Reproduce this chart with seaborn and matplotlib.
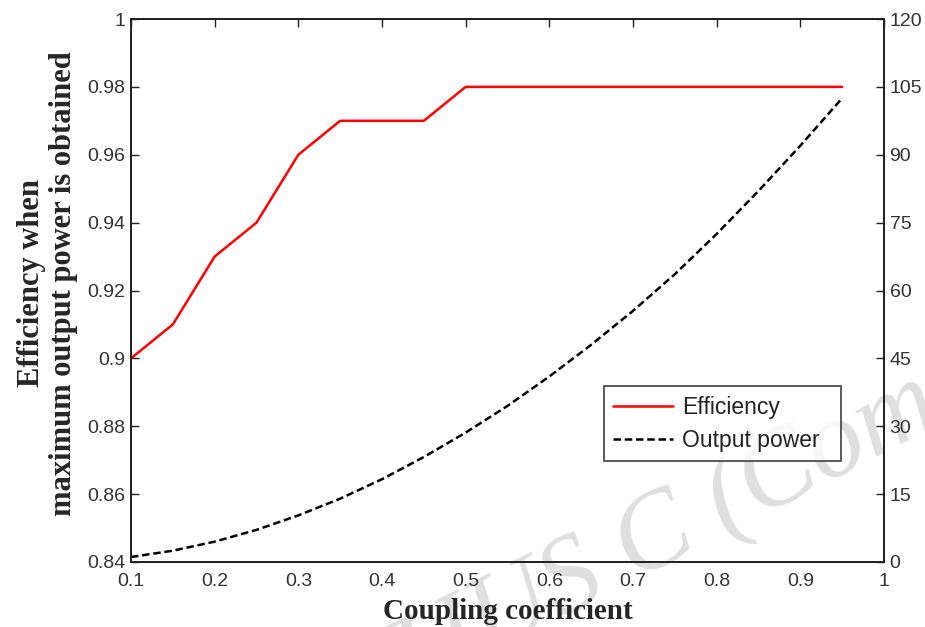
import matplotlib
matplotlib.use("Agg")
import matplotlib.pyplot as plt
import seaborn as sns
import pandas as pd

coupling = [0.10, 0.15, 0.20, 0.25, 0.30, 0.35, 0.40, 0.45, 0.50, 0.55,
            0.60, 0.65, 0.70, 0.75, 0.80, 0.85, 0.90, 0.95]
efficiency = [0.90, 0.91, 0.93, 0.94, 0.96, 0.97, 0.97, 0.97, 0.98, 0.98,
              0.98, 0.98, 0.98, 0.98, 0.98, 0.98, 0.98, 0.98]
output_power = [1.1, 2.5, 4.5, 7.1, 10.3, 14.0, 18.3, 23.2, 28.6, 34.5,
                41.0, 48.0, 55.5, 63.6, 72.5, 82.0, 92.0, 102.5]

x_ticks = [0.1, 0.2, 0.3, 0.4, 0.5, 0.6, 0.7, 0.8, 0.9, 1]
x_tick_labels = ["0.1", "0.2", "0.3", "0.4", "0.5", "0.6", "0.7", "0.8", "0.9", "1"]
left_ticks = [0.84, 0.86, 0.88, 0.90, 0.92, 0.94, 0.96, 0.98, 1.0]
left_tick_labels = ["0.84", "0.86", "0.88", "0.9", "0.92", "0.94", "0.96", "0.98", "1"]
right_ticks = [0, 15, 30, 45, 60, 75, 90, 105, 120]

df = pd.DataFrame({"k": coupling, "eff": efficiency, "pw": output_power})

sns.set_style("white")
plt.rcParams["font.family"] = ["Liberation Sans", "DejaVu Sans"]

fig = plt.figure(figsize=(9.25, 6.27), dpi=100)
ax = fig.add_axes([131/925, 1 - 562/627, (884-131)/925, (562-19)/627])
ax2 = ax.twinx()
ax.patch.set_alpha(0)
ax2.patch.set_alpha(0)

sns.lineplot(data=df, x="k", y="eff", ax=ax, color="#ff0000", linewidth=1.8, label="Efficiency", legend=False)
sns.lineplot(data=df, x="k", y="pw", ax=ax2, color="black", linewidth=1.8, linestyle=(0, (3, 1.5)), label="Output power", legend=False)

ax.set_xlim(0.1, 1)
ax.set_ylim(0.84, 1.0)
ax2.set_ylim(0, 120)
ax.set_xticks(x_ticks)
ax.set_xticklabels(x_tick_labels)
ax.set_yticks(left_ticks)
ax.set_yticklabels(left_tick_labels)
ax2.set_yticks(right_ticks)
ax2.set_yticklabels([str(t) for t in right_ticks])

for a in (ax, ax2):
    for s in a.spines.values():
        s.set_color("#222222")
        s.set_linewidth(1.3)
ax.tick_params(axis="x", direction="in", length=6, width=1, labelsize=14, colors="#222222",
               labelcolor="#333333", top=True, labeltop=False, pad=8)
ax.tick_params(axis="y", direction="in", length=6, width=1, labelsize=14, colors="#222222",
               labelcolor="#333333", right=False, left=True, pad=4)
ax2.tick_params(axis="y", direction="in", length=6, width=1, labelsize=14, colors="#222222",
                labelcolor="#333333", pad=4)

ax.set_xlabel("Coupling coefficient", fontsize=21, fontweight="bold", family=["Liberation Serif"], labelpad=6)
ax.set_ylabel("Efficiency when\nmaximum output power is obtained", fontsize=22, fontweight="bold",
              family=["Liberation Serif"], linespacing=1.15)
ax.yaxis.set_label_coords((78 - 131) / 753, 0.513)
ax2.set_ylabel("")

h1, l1 = ax.get_legend_handles_labels()
h2, l2 = ax2.get_legend_handles_labels()
leg = ax2.legend(h1 + h2, l1 + l2, loc="lower left",
                 bbox_to_anchor=((604-131)/753, (562-461)/543, (841-604)/753, 0.1),
                 mode="expand", fontsize=16.5, frameon=True, fancybox=False, handlelength=2.6,
                 borderpad=0.4, labelspacing=0.45, handletextpad=0.4, borderaxespad=0)
leg.get_frame().set_edgecolor("#222222")
leg.get_frame().set_linewidth(1.3)
for t in leg.get_texts():
    t.set_color("#222222")

fig.text(680/925, 1 - 528/627, "ZJUS C (Comp", fontsize=80, family=["Liberation Serif"], style="italic",
         color="#dfdfdf", rotation=27, rotation_mode="anchor", ha="center", va="center", zorder=-1)

fig.savefig("out.png", dpi=100)
